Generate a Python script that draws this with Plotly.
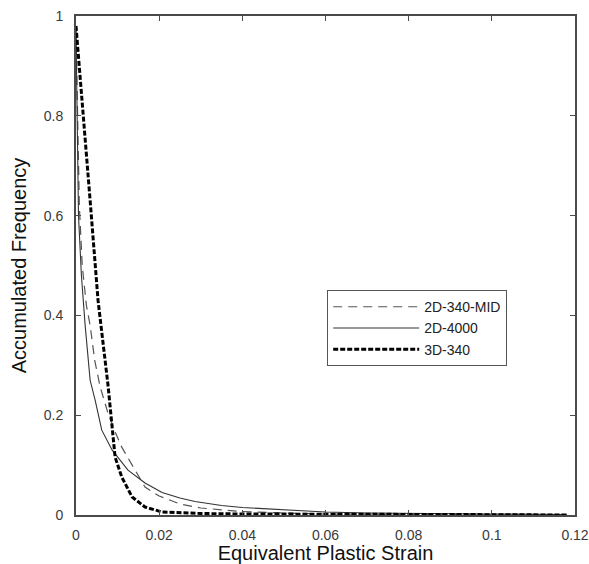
import plotly.graph_objects as go

# 2D-340-MID (thin dashed)
mid_x = [0, 0.0004, 0.0008, 0.0015, 0.0025, 0.0034, 0.0045, 0.0058, 0.0077, 0.0095, 0.011, 0.0142, 0.0166, 0.02, 0.025, 0.03, 0.04, 0.05, 0.06, 0.08, 0.1, 0.118]
mid_y = [0.97, 0.8, 0.62, 0.5, 0.42, 0.38, 0.31, 0.257, 0.204, 0.165, 0.136, 0.09, 0.056, 0.038, 0.022, 0.014, 0.007, 0.004, 0.002, 0.001, 0.0005, 0.0]

# 2D-4000 (thin solid)
s_x = [0, 0.0003, 0.0006, 0.0013, 0.0022, 0.0034, 0.0046, 0.0062, 0.0087, 0.0125, 0.0166, 0.0207, 0.025, 0.0286, 0.035, 0.04, 0.05, 0.06, 0.07, 0.08, 0.1, 0.118]
s_y = [0.97, 0.75, 0.6, 0.48, 0.38, 0.27, 0.23, 0.17, 0.13, 0.09, 0.064, 0.045, 0.034, 0.027, 0.019, 0.015, 0.01, 0.006, 0.004, 0.003, 0.002, 0.001]

# 3D-340 (thick dashed)
t_x = [0, 0.001, 0.002, 0.0034, 0.0053, 0.0077, 0.0094, 0.011, 0.0135, 0.0166, 0.0207, 0.025, 0.03, 0.04, 0.05, 0.07, 0.09, 0.118]
t_y = [0.98, 0.88, 0.78, 0.63, 0.43, 0.26, 0.116, 0.076, 0.036, 0.016, 0.006, 0.004, 0.003, 0.002, 0.0015, 0.001, 0.001, 0.0]

x_ticks = [0, 0.02, 0.04, 0.06, 0.08, 0.1, 0.12]
x_tick_text = ["0", "0.02", "0.04", "0.06", "0.08", "0.1", "0.12"]
y_ticks = [0, 0.2, 0.4, 0.6, 0.8, 1]
y_tick_text = ["0", "0.2", "0.4", "0.6", "0.8", "1"]

FONT = "Liberation Sans, Arial"

fig = go.Figure()
fig.add_trace(go.Scatter(x=mid_x, y=mid_y, mode="lines", name="2D-340-MID",
                         line=dict(color="#555555", width=1.2, dash="9px,6px")))
fig.add_trace(go.Scatter(x=s_x, y=s_y, mode="lines", name="2D-4000",
                         line=dict(color="#333333", width=1.1)))
fig.add_trace(go.Scatter(x=t_x, y=t_y, mode="lines", name="3D-340",
                         line=dict(color="#000000", width=3, dash="5px,2px")))

axis_common = dict(showgrid=False, zeroline=False, showline=True, linecolor="#4a4a4a",
                   linewidth=1.8, mirror="ticks", ticks="inside", ticklen=5,
                   tickcolor="#4a4a4a", tickwidth=1.2, automargin=False,
                   tickfont=dict(family=FONT, size=14, color="#3a3a3a"))

fig.update_xaxes(range=[0, 0.12], tickvals=x_ticks, ticktext=x_tick_text,
                 ticklabelstandoff=6,
                 title=dict(text="Equivalent Plastic Strain", standoff=2,
                            font=dict(family=FONT, size=20, color="#111111")),
                 **axis_common)
fig.update_yaxes(range=[0, 1], tickvals=y_ticks, ticktext=y_tick_text,
                 ticklabelstandoff=8,
                 title=dict(text="Accumulated Frequency", standoff=12,
                            font=dict(family=FONT, size=20, color="#111111")),
                 **axis_common)

fig.update_layout(
    width=589, height=564,
    margin=dict(l=76, r=14, t=16, b=49),
    paper_bgcolor="white", plot_bgcolor="white",
    showlegend=True,
    legend=dict(x=0.503, y=0.451, xanchor="left", yanchor="top",
                bordercolor="#555555", borderwidth=1.2, bgcolor="white",
                font=dict(family=FONT, size=14, color="#222222"),
                itemwidth=86, tracegroupgap=0),
)

fig.write_html("out.html")
